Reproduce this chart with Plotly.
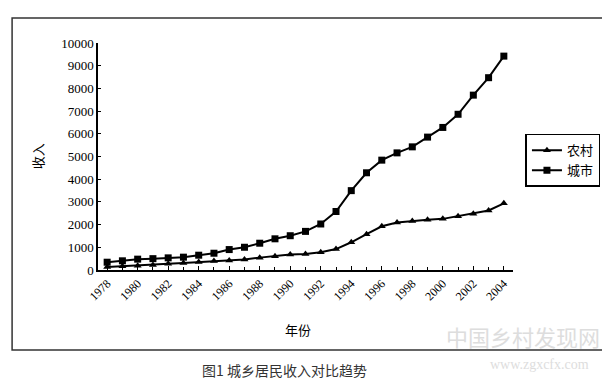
import plotly.graph_objects as go

years = list(range(1978, 2005))
rural = [134, 160, 191, 223, 270, 310, 355, 398, 424, 463, 545, 602, 686, 709, 784,
         922, 1221, 1578, 1926, 2090, 2162, 2210, 2253, 2366, 2476, 2622, 2936]
urban = [343, 405, 478, 500, 535, 565, 652, 739, 900, 1002, 1180, 1374, 1510, 1701, 2027,
         2577, 3496, 4283, 4839, 5160, 5425, 5854, 6280, 6860, 7703, 8472, 9422]
tick_years = list(range(1978, 2005, 2))
y_ticks = list(range(0, 10001, 1000))

serif = "Liberation Serif, Times New Roman, serif"
cjk = "Noto Sans CJK SC"

fig = go.Figure()
fig.add_trace(go.Scatter(x=years, y=rural, name="农村", mode="lines+markers",
                         line=dict(color="black", width=2),
                         marker=dict(symbol="triangle-up", size=7, color="black")))
fig.add_trace(go.Scatter(x=years, y=urban, name="城市", mode="lines+markers",
                         line=dict(color="black", width=2),
                         marker=dict(symbol="square", size=7, color="black")))

fig.update_layout(
    width=610, height=382,
    margin=dict(l=90, r=105, t=35, b=120),
    paper_bgcolor="white", plot_bgcolor="white",
    showlegend=True,
    legend=dict(x=1.03, y=0.6, xanchor="left", yanchor="top",
                bordercolor="black", borderwidth=1.5, bgcolor="white",
                font=dict(family=cjk, size=13, color="black"),
                itemwidth=30, tracegroupgap=2),
    xaxis=dict(range=[1977.4, 2004.6], tickmode="array", tickvals=tick_years,
               ticktext=[str(y) for y in tick_years], tickangle=-45,
               showline=True, linecolor="black", linewidth=1.5,
               ticks="inside", ticklen=4, tickcolor="black", showgrid=False, zeroline=False,
               tickfont=dict(family=serif, size=12, color="black")),
    yaxis=dict(range=[0, 10000], tickmode="array", tickvals=y_ticks,
               ticktext=[str(v) for v in y_ticks],
               showline=True, linecolor="black", linewidth=1.5,
               ticks="inside", ticklen=3, tickcolor="black", showgrid=False, zeroline=False,
               tickfont=dict(family=serif, size=13, color="black")),
)
fig.update_xaxes(minor=dict(tickvals=years, ticks="inside", ticklen=3, tickcolor="black"))

# axis titles
fig.add_annotation(text="收入", x=-0.145, y=0.5, xref="paper", yref="paper",
                   xanchor="center", yanchor="middle",
                   textangle=-90, showarrow=False,
                   font=dict(family=cjk, size=13, color="black"))
fig.add_annotation(text="年份", x=0.482, y=-0.264, xref="paper", yref="paper",
                   xanchor="center", yanchor="middle",
                   showarrow=False, font=dict(family=cjk, size=13, color="black"))

# outer frame
fig.add_shape(type="rect", xref="paper", yref="paper",
              x0=-0.207, x1=1.236, y0=-0.352, y1=1.11,
              line=dict(color="#333", width=1.5))

# caption
fig.add_annotation(text="图1 城乡居民收入对比趋势", x=0.45, y=-0.44, xref="paper", yref="paper",
                   xanchor="center", yanchor="middle",
                   showarrow=False, font=dict(family=cjk, size=14, color="#333"))

# watermark
fig.add_annotation(text="中国乡村发现网", x=1.024, y=-0.29, xref="paper", yref="paper",
                   xanchor="center", yanchor="middle",
                   showarrow=False, font=dict(family=cjk, size=22, color="#dddddd"))
fig.add_annotation(text="www.zgxcfx.com", x=1.063, y=-0.418, xref="paper", yref="paper",
                   xanchor="center", yanchor="middle",
                   showarrow=False, font=dict(family=serif, size=14, color="#dddddd"))

fig.write_html("out.html")
